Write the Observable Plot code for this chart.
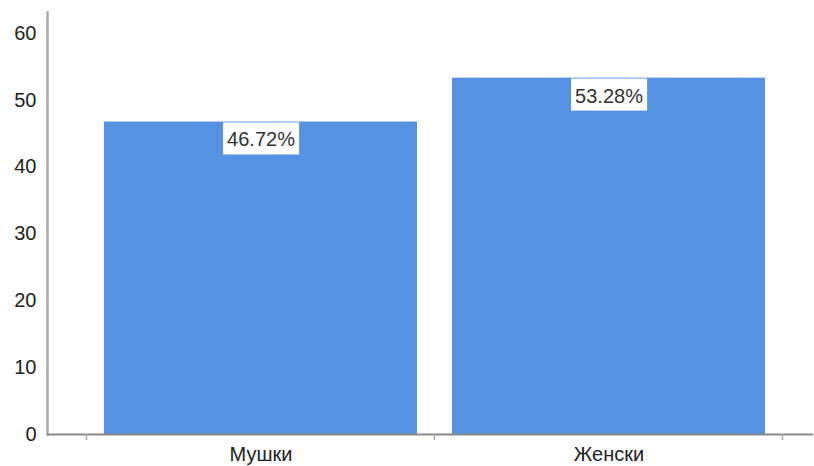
<!DOCTYPE html>
<html><head><meta charset="utf-8">
<script src="https://cdn.jsdelivr.net/npm/d3@7"></script>
<script src="https://cdn.jsdelivr.net/npm/@observablehq/plot@0.6"></script>
<style>body{margin:0;background:#fff}</style></head>
<body><div id="chart"></div>
<script>
const categories = ["Мушки", "Женски"];
const values = [46.72, 53.28];
const labels = ["46.72%", "53.28%"];
const yTicks = [0, 10, 20, 30, 40, 50, 60];

const data = categories.map((c, i) => ({category: c, value: values[i], label: labels[i]}));

const chart = Plot.plot({
  width: 814, height: 466,
  marginLeft: 47, marginRight: 1, marginTop: 12, marginBottom: 32,
  style: {fontFamily: "'Liberation Sans', Arial, sans-serif", fontSize: "20px", color: "#222", background: "#fff"},
  x: {domain: categories, range: [86, 783], paddingInner: 0.1, paddingOuter: 0.05, label: null},
  y: {domain: [0, 63.1], label: null},
  marks: [
    Plot.barY(data, {x: "category", y: "value", fill: "#5592E3"}),
    Plot.frame({anchor: "left", stroke: "#aaa", strokeWidth: 2.5}),
    Plot.ruleY([0], {stroke: "#888", strokeWidth: 2}),
    Plot.axisY({ticks: yTicks, tickSize: 0, tickPadding: 11, fontSize: 20, label: null}),
    Plot.axisX({tickSize: 0, tickPadding: 12, fontSize: 20, label: null}),
    Plot.text(data, {x: "category", y: "value", text: "label", dy: 18, fill: "#333", fontSize: 20})
  ]
});
document.getElementById("chart").appendChild(chart);

// white boxes behind value labels
const ns = "http://www.w3.org/2000/svg";
const textGroups = chart.querySelectorAll('g[aria-label="text"]');
const lg = textGroups[textGroups.length - 1];
lg.querySelectorAll("text").forEach(t => {
  const b = t.getBBox();
  const r = document.createElementNS(ns, "rect");
  const padX = 4;
  r.setAttribute("x", b.x - padX);
  r.setAttribute("y", b.y + b.height / 2 - 17);
  r.setAttribute("width", b.width + 2 * padX);
  r.setAttribute("height", 32);
  r.setAttribute("fill", "#fff");
  const tr = t.getAttribute("transform");
  if (tr) r.setAttribute("transform", tr);
  lg.insertBefore(r, t);
});

// tick marks at band boundaries on x axis
const xs = chart.scale("x");
const y0 = chart.scale("y").apply(0);
const gap = (xs.step - xs.bandwidth) / 2;
const bounds = categories.map(c => xs.apply(c) - gap);
bounds.push(xs.apply(categories[categories.length - 1]) + xs.bandwidth + gap);
const tg = document.createElementNS(ns, "g");
bounds.forEach(x => {
  const l = document.createElementNS(ns, "line");
  l.setAttribute("x1", x); l.setAttribute("x2", x);
  l.setAttribute("y1", y0); l.setAttribute("y2", y0 + 6);
  l.setAttribute("stroke", "#aaa"); l.setAttribute("stroke-width", 1.5);
  tg.appendChild(l);
});
chart.appendChild(tg);
</script>
</body></html>
